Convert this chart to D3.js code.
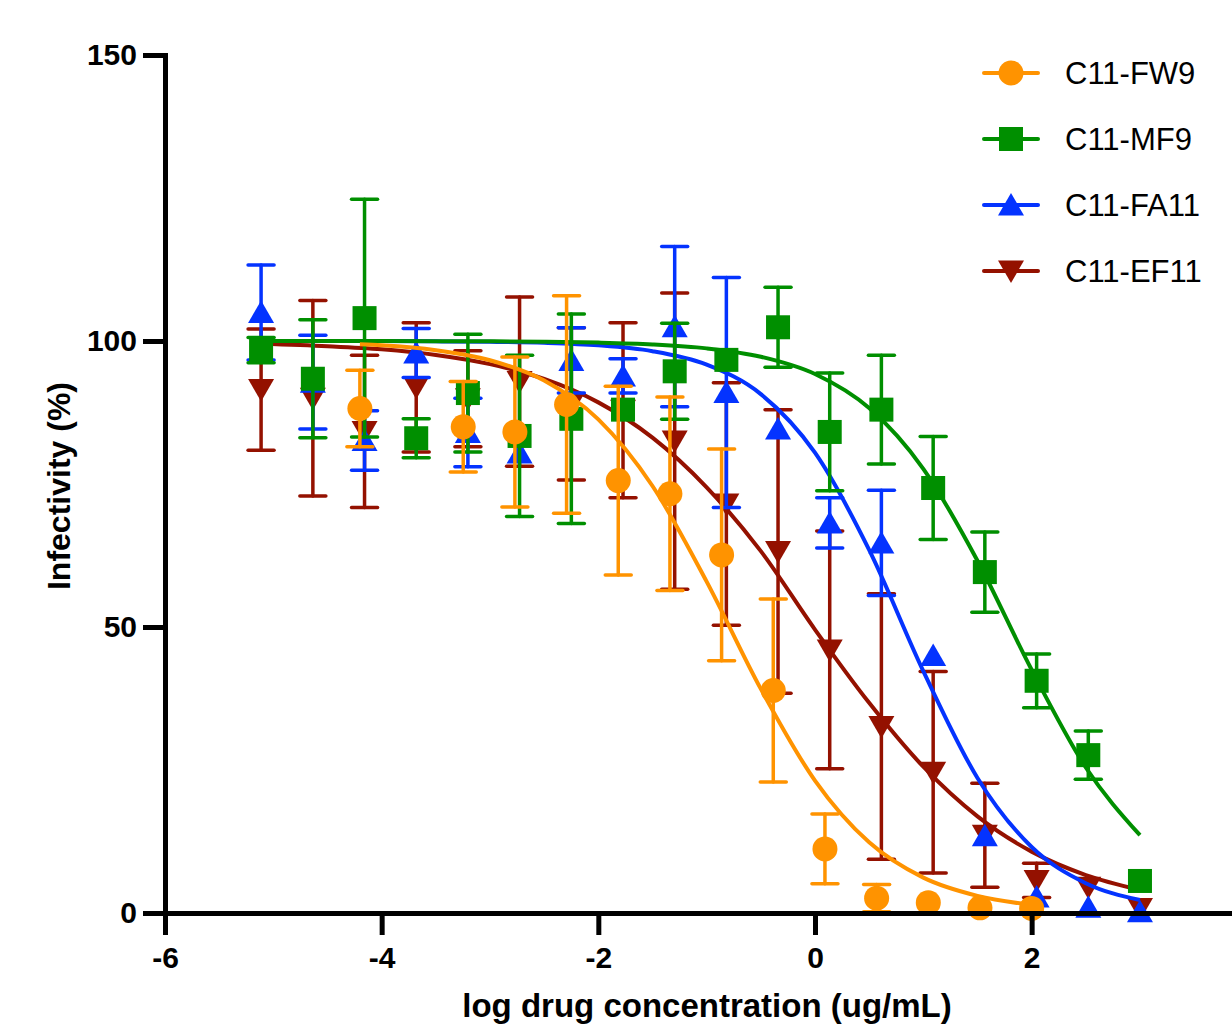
<!DOCTYPE html>
<html>
<head>
<meta charset="utf-8">
<script src="https://cdn.jsdelivr.net/npm/d3@7"></script>
<style>
    body { margin: 0; background: #fff; }
    text { font-family: "Liberation Sans", Arial, Helvetica, sans-serif; }
</style>
</head>
<body>
<div id="chart"></div>
<script>
// log10 concentrations (3-fold dilutions)
const logConc = [-5.113, -4.635, -4.158, -3.681, -3.204, -2.727, -2.249, -1.772, -1.295,
                 -0.818, -0.341, 0.136, 0.613, 1.091, 1.568, 2.046, 2.523, 3.0];
const fw9Conc = [-4.201, -3.247, -2.770, -2.293, -1.816, -1.339, -0.862, -0.385, 0.092,
                 0.569, 1.046, 1.523, 2.0];

// mean infectivity (%) and SD (0 = bar hidden by the symbol)
const fw9Mean = [88.2, 85.0, 84.1, 88.9, 75.6, 73.3, 62.6, 38.9, 11.2, 2.6, 1.8, 0.9, 0.8];
const fw9Sd   = [6.7, 7.9, 13.1, 19.0, 16.5, 16.9, 18.5, 16.0, 6.1, 2.4, 0, 0, 0];

const mf9Mean = [98.4, 93.4, 104.0, 83.0, 90.9, 83.4, 86.4, 88.0, 94.7,
                 96.7, 102.4, 84.1, 88.0, 74.3, 59.6, 40.6, 27.6, 5.6];
const mf9Sd   = [2.2, 10.3, 20.8, 3.4, 10.3, 14.1, 18.3, 0, 8.4,
                 0, 7.0, 10.3, 9.5, 9.0, 7.0, 4.7, 4.2, 0];

const fa11Mean = [105.0, 92.8, 82.6, 97.9, 84.0, 80.4, 96.6, 93.9, 102.5,
                  91.0, 84.6, 68.2, 64.7, 45.0, 13.5, 2.8, 1.0, 0.2];
const fa11Sd   = [8.3, 8.2, 5.2, 4.3, 6.0, 0, 5.7, 3.0, 14.0,
                  20.1, 0, 4.4, 9.2, 0, 0, 0, 0, 0];

const ef11Mean = [91.5, 90.0, 84.2, 91.9, 89.9, 92.9, 89.0, 87.9, 82.5,
                  71.5, 63.2, 46.0, 32.6, 24.6, 13.6, 5.7, 4.5, 0.8];
const ef11Sd   = [10.6, 17.1, 13.3, 11.3, 8.4, 14.8, 13.3, 15.3, 25.9,
                  21.2, 24.8, 20.8, 23.2, 17.6, 9.1, 3.0, 0, 0];

// fitted curves
const fitX    = [-5.113, -4.5, -4, -3.5, -3, -2.5, -2, -1.5, -1, -0.5, 0, 0.5, 1, 1.5, 2, 2.5, 3];
const mf9Fit  = [100, 100, 99.99, 99.97, 99.94, 99.87, 99.72, 99.4, 98.71, 97.25, 94.23, 88.28, 77.66, 61.59, 42.52, 25.44, 13.6];
const fa11Fit = [100, 99.99, 99.98, 99.94, 99.86, 99.68, 99.24, 98.21, 95.86, 90.72, 80.47, 63.48, 42.29, 23.61, 11.53, 5.21, 2.26];
const ef11Fit = [99.53, 99.1, 98.55, 97.57, 95.96, 93.36, 89.27, 83.11, 74.43, 63.26, 49.55, 36.74, 25.57, 16.89, 10.73, 6.64, 4.04];
const fw9FitX = [-4.201, -4, -3.5, -3, -2.5, -2, -1.5, -1, -0.5, 0, 0.5, 1, 1.5, 2];
const fw9Fit  = [99.44, 99.25, 98.4, 96.64, 93.08, 86.29, 74.65, 57.93, 39.18, 23.15, 12.35, 6.18, 2.99, 1.42];

const xTicks = [-6, -4, -2, 0, 2];
const yTicks = [0, 50, 100, 150];

const series = [
    { name: "C11-FW9",  color: "#FF9300", shape: "circle",   x: fw9Conc, mean: fw9Mean,  sd: fw9Sd,  fx: fw9FitX, fy: fw9Fit },
    { name: "C11-MF9",  color: "#008F00", shape: "square",   x: logConc, mean: mf9Mean,  sd: mf9Sd,  fx: fitX,    fy: mf9Fit },
    { name: "C11-FA11", color: "#0433FF", shape: "triangle", x: logConc, mean: fa11Mean, sd: fa11Sd, fx: fitX,    fy: fa11Fit },
    { name: "C11-EF11", color: "#941100", shape: "down",     x: logConc, mean: ef11Mean, sd: ef11Sd, fx: fitX,    fy: ef11Fit }
];

const width = 1232, height = 1026;

const svg = d3.select("#chart")
    .append("svg")
    .attr("width", width)
    .attr("height", height);

const x = d3.scaleLinear().domain([-6, 4]).range([165, 1248.3]);
const y = d3.scaleLinear().domain([0, 150]).range([913, 55]);

// marker drawing
function drawMarker(g, shape, color) {
    if (shape === "circle") {
        g.append("circle").attr("r", 12.5).attr("fill", color);
    } else if (shape === "square") {
        g.append("rect").attr("x", -12).attr("y", -12).attr("width", 24).attr("height", 24).attr("fill", color);
    } else if (shape === "triangle") {
        g.append("path").attr("d", "M0,-12L13,10.5L-13,10.5Z").attr("fill", color);
    } else {
        g.append("path").attr("d", "M0,12L13,-10.5L-13,-10.5Z").attr("fill", color);
    }
}

const line = d3.line()
    .x(d => x(d[0]))
    .y(d => y(d[1]))
    .curve(d3.curveMonotoneX);

// draw in reverse so FW9 ends up on top
series.slice().reverse().forEach(s => {
    const g = svg.append("g");

    g.append("path")
        .datum(s.fx.map((v, i) => [v, s.fy[i]]))
        .attr("d", line)
        .attr("fill", "none")
        .attr("stroke", s.color)
        .attr("stroke-width", 4);

    const pts = s.x.map((v, i) => ({ x: v, m: s.mean[i], sd: s.sd[i] }));

    const eb = g.selectAll("g.err")
        .data(pts.filter(d => d.sd > 0))
        .enter()
        .append("g")
        .attr("class", "err")
        .attr("stroke", s.color)
        .attr("stroke-width", 3.5)
        .attr("stroke-linecap", "round");

    eb.append("line")
        .attr("x1", d => x(d.x)).attr("x2", d => x(d.x))
        .attr("y1", d => y(d.m + d.sd)).attr("y2", d => y(Math.max(0, d.m - d.sd)));
    eb.append("line")
        .attr("x1", d => x(d.x) - 13).attr("x2", d => x(d.x) + 13)
        .attr("y1", d => y(d.m + d.sd)).attr("y2", d => y(d.m + d.sd));
    eb.append("line")
        .attr("x1", d => x(d.x) - 13).attr("x2", d => x(d.x) + 13)
        .attr("y1", d => y(Math.max(0, d.m - d.sd))).attr("y2", d => y(Math.max(0, d.m - d.sd)));

    pts.forEach(d => {
        const mg = g.append("g").attr("transform", `translate(${x(d.x)},${y(d.m)})`);
        drawMarker(mg, s.shape, s.color);
    });
});

// axes
const yAxis = svg.append("g")
    .attr("transform", "translate(165,0)")
    .call(d3.axisLeft(y).tickValues(yTicks).tickSize(22).tickSizeOuter(0).tickPadding(6).tickFormat(d => String(d)));

const xAxis = svg.append("g")
    .attr("transform", "translate(0,913)")
    .call(d3.axisBottom(x).tickValues(xTicks).tickSize(22).tickSizeOuter(0).tickPadding(12).tickFormat(d => String(d)));

[yAxis, xAxis].forEach(a => {
    a.select(".domain").attr("stroke", "#000").attr("stroke-width", 5).attr("stroke-linecap", "square");
    a.selectAll(".tick line").attr("stroke", "#000").attr("stroke-width", 5);
    a.selectAll(".tick text")
        .attr("fill", "#000")
        .attr("font-size", 30)
        .attr("font-weight", "bold")
        .style("font-family", '"Liberation Sans", Arial, sans-serif');
});

// axis titles
svg.append("text")
    .attr("x", 707)
    .attr("y", 1017)
    .attr("text-anchor", "middle")
    .attr("font-size", 33)
    .attr("font-weight", "bold")
    .text("log drug concentration (ug/mL)");

svg.append("text")
    .attr("transform", "translate(70,486) rotate(-90)")
    .attr("text-anchor", "middle")
    .attr("font-size", 32)
    .attr("font-weight", "bold")
    .text("Infectivity (%)");

// legend
const legend = svg.selectAll("g.legend")
    .data(series)
    .enter()
    .append("g")
    .attr("class", "legend")
    .attr("transform", (d, i) => `translate(1011,${73 + i * 66})`);

legend.append("line")
    .attr("x1", -27).attr("x2", 27)
    .attr("stroke", d => d.color)
    .attr("stroke-width", 4)
    .attr("stroke-linecap", "round");

legend.each(function (d) {
    drawMarker(d3.select(this), d.shape, d.color);
});

legend.append("text")
    .attr("x", 54)
    .attr("y", 11)
    .attr("font-size", 31)
    .attr("fill", "#000")
    .text(d => d.name);
</script>
</body>
</html>
